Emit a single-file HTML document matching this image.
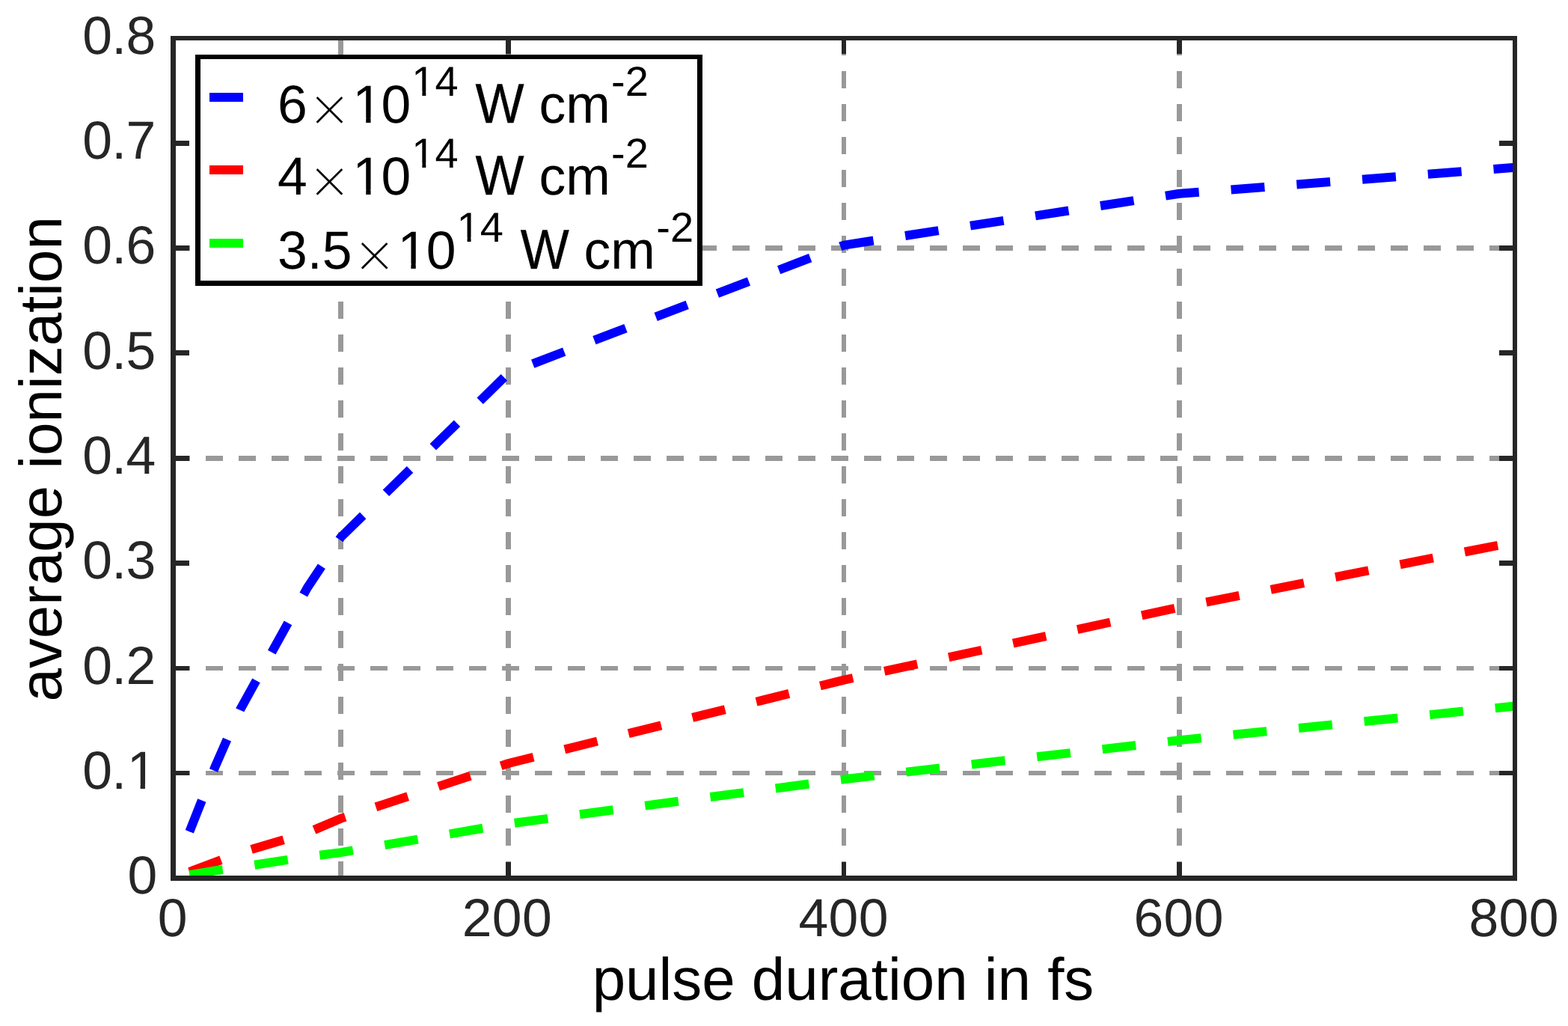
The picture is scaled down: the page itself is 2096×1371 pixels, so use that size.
<!DOCTYPE html>
<html lang="en"><head><meta charset="utf-8"><title>average ionization vs pulse duration in fs</title>
<style>
html,body{margin:0;padding:0;background:#fff;}
body{width:2096px;height:1371px;overflow:hidden;}
svg{display:block;text-rendering:geometricPrecision;}
text{font-family:"Liberation Sans",sans-serif;white-space:pre;}
.tick{font-size:71.5px;fill:#262626;}
.xt{letter-spacing:0.35px;}
.yt{letter-spacing:-0.7px;}
.lab{font-size:79.9px;fill:#000;}
.leg{font-size:71.5px;fill:#000;}
.sup{font-size:56px;fill:#000;}
.w{font-size:74.9px;stroke:#000;stroke-width:0.4px;}
.times{font-family:"DejaVu Sans Light","DejaVu Sans",sans-serif;font-weight:200;font-size:70.9px;fill:#000;stroke:#fff;stroke-width:0.7px;}
</style></head><body>
<svg width="2096" height="1371" viewBox="0 0 2096 1371" role="img" aria-label="average ionization versus pulse duration in fs">
<rect x="0" y="0" width="2096" height="1371" fill="#ffffff"/>
<g fill="#999999" shape-rendering="crispEdges">
<rect x="452" y="51" width="7" height="23"/>
<rect x="452" y="95" width="7" height="23"/>
<rect x="452" y="139" width="7" height="23"/>
<rect x="452" y="183" width="7" height="23"/>
<rect x="452" y="227" width="7" height="23"/>
<rect x="452" y="271" width="7" height="23"/>
<rect x="452" y="315" width="7" height="23"/>
<rect x="452" y="359" width="7" height="23"/>
<rect x="452" y="403" width="7" height="23"/>
<rect x="452" y="447" width="7" height="23"/>
<rect x="452" y="491" width="7" height="23"/>
<rect x="452" y="535" width="7" height="23"/>
<rect x="452" y="579" width="7" height="23"/>
<rect x="452" y="623" width="7" height="23"/>
<rect x="452" y="667" width="7" height="23"/>
<rect x="452" y="711" width="7" height="23"/>
<rect x="452" y="755" width="7" height="23"/>
<rect x="452" y="799" width="7" height="23"/>
<rect x="452" y="843" width="7" height="23"/>
<rect x="452" y="887" width="7" height="23"/>
<rect x="452" y="931" width="7" height="23"/>
<rect x="452" y="975" width="7" height="23"/>
<rect x="452" y="1019" width="7" height="23"/>
<rect x="452" y="1063" width="7" height="23"/>
<rect x="452" y="1107" width="7" height="23"/>
<rect x="452" y="1151" width="7" height="23"/>
<rect x="676" y="51" width="7" height="23"/>
<rect x="676" y="95" width="7" height="23"/>
<rect x="676" y="139" width="7" height="23"/>
<rect x="676" y="183" width="7" height="23"/>
<rect x="676" y="227" width="7" height="23"/>
<rect x="676" y="271" width="7" height="23"/>
<rect x="676" y="315" width="7" height="23"/>
<rect x="676" y="359" width="7" height="23"/>
<rect x="676" y="403" width="7" height="23"/>
<rect x="676" y="447" width="7" height="23"/>
<rect x="676" y="491" width="7" height="23"/>
<rect x="676" y="535" width="7" height="23"/>
<rect x="676" y="579" width="7" height="23"/>
<rect x="676" y="623" width="7" height="23"/>
<rect x="676" y="667" width="7" height="23"/>
<rect x="676" y="711" width="7" height="23"/>
<rect x="676" y="755" width="7" height="23"/>
<rect x="676" y="799" width="7" height="23"/>
<rect x="676" y="843" width="7" height="23"/>
<rect x="676" y="887" width="7" height="23"/>
<rect x="676" y="931" width="7" height="23"/>
<rect x="676" y="975" width="7" height="23"/>
<rect x="676" y="1019" width="7" height="23"/>
<rect x="676" y="1063" width="7" height="23"/>
<rect x="676" y="1107" width="7" height="23"/>
<rect x="676" y="1151" width="7" height="23"/>
<rect x="1125" y="51" width="6" height="23"/>
<rect x="1125" y="95" width="6" height="23"/>
<rect x="1125" y="139" width="6" height="23"/>
<rect x="1125" y="183" width="6" height="23"/>
<rect x="1125" y="227" width="6" height="23"/>
<rect x="1125" y="271" width="6" height="23"/>
<rect x="1125" y="315" width="6" height="23"/>
<rect x="1125" y="359" width="6" height="23"/>
<rect x="1125" y="403" width="6" height="23"/>
<rect x="1125" y="447" width="6" height="23"/>
<rect x="1125" y="491" width="6" height="23"/>
<rect x="1125" y="535" width="6" height="23"/>
<rect x="1125" y="579" width="6" height="23"/>
<rect x="1125" y="623" width="6" height="23"/>
<rect x="1125" y="667" width="6" height="23"/>
<rect x="1125" y="711" width="6" height="23"/>
<rect x="1125" y="755" width="6" height="23"/>
<rect x="1125" y="799" width="6" height="23"/>
<rect x="1125" y="843" width="6" height="23"/>
<rect x="1125" y="887" width="6" height="23"/>
<rect x="1125" y="931" width="6" height="23"/>
<rect x="1125" y="975" width="6" height="23"/>
<rect x="1125" y="1019" width="6" height="23"/>
<rect x="1125" y="1063" width="6" height="23"/>
<rect x="1125" y="1107" width="6" height="23"/>
<rect x="1125" y="1151" width="6" height="23"/>
<rect x="1573" y="51" width="7" height="23"/>
<rect x="1573" y="95" width="7" height="23"/>
<rect x="1573" y="139" width="7" height="23"/>
<rect x="1573" y="183" width="7" height="23"/>
<rect x="1573" y="227" width="7" height="23"/>
<rect x="1573" y="271" width="7" height="23"/>
<rect x="1573" y="315" width="7" height="23"/>
<rect x="1573" y="359" width="7" height="23"/>
<rect x="1573" y="403" width="7" height="23"/>
<rect x="1573" y="447" width="7" height="23"/>
<rect x="1573" y="491" width="7" height="23"/>
<rect x="1573" y="535" width="7" height="23"/>
<rect x="1573" y="579" width="7" height="23"/>
<rect x="1573" y="623" width="7" height="23"/>
<rect x="1573" y="667" width="7" height="23"/>
<rect x="1573" y="711" width="7" height="23"/>
<rect x="1573" y="755" width="7" height="23"/>
<rect x="1573" y="799" width="7" height="23"/>
<rect x="1573" y="843" width="7" height="23"/>
<rect x="1573" y="887" width="7" height="23"/>
<rect x="1573" y="931" width="7" height="23"/>
<rect x="1573" y="975" width="7" height="23"/>
<rect x="1573" y="1019" width="7" height="23"/>
<rect x="1573" y="1063" width="7" height="23"/>
<rect x="1573" y="1107" width="7" height="23"/>
<rect x="1573" y="1151" width="7" height="23"/>
<rect x="231" y="1030" width="23" height="6"/>
<rect x="275" y="1030" width="23" height="6"/>
<rect x="319" y="1030" width="23" height="6"/>
<rect x="363" y="1030" width="23" height="6"/>
<rect x="407" y="1030" width="23" height="6"/>
<rect x="451" y="1030" width="23" height="6"/>
<rect x="495" y="1030" width="23" height="6"/>
<rect x="539" y="1030" width="23" height="6"/>
<rect x="583" y="1030" width="23" height="6"/>
<rect x="627" y="1030" width="23" height="6"/>
<rect x="671" y="1030" width="23" height="6"/>
<rect x="715" y="1030" width="23" height="6"/>
<rect x="759" y="1030" width="23" height="6"/>
<rect x="803" y="1030" width="23" height="6"/>
<rect x="847" y="1030" width="23" height="6"/>
<rect x="891" y="1030" width="23" height="6"/>
<rect x="935" y="1030" width="23" height="6"/>
<rect x="979" y="1030" width="23" height="6"/>
<rect x="1023" y="1030" width="23" height="6"/>
<rect x="1067" y="1030" width="23" height="6"/>
<rect x="1111" y="1030" width="23" height="6"/>
<rect x="1155" y="1030" width="23" height="6"/>
<rect x="1199" y="1030" width="23" height="6"/>
<rect x="1243" y="1030" width="23" height="6"/>
<rect x="1287" y="1030" width="23" height="6"/>
<rect x="1331" y="1030" width="23" height="6"/>
<rect x="1375" y="1030" width="23" height="6"/>
<rect x="1419" y="1030" width="23" height="6"/>
<rect x="1463" y="1030" width="23" height="6"/>
<rect x="1507" y="1030" width="23" height="6"/>
<rect x="1551" y="1030" width="23" height="6"/>
<rect x="1595" y="1030" width="23" height="6"/>
<rect x="1639" y="1030" width="23" height="6"/>
<rect x="1683" y="1030" width="23" height="6"/>
<rect x="1727" y="1030" width="23" height="6"/>
<rect x="1771" y="1030" width="23" height="6"/>
<rect x="1815" y="1030" width="23" height="6"/>
<rect x="1859" y="1030" width="23" height="6"/>
<rect x="1903" y="1030" width="23" height="6"/>
<rect x="1947" y="1030" width="23" height="6"/>
<rect x="1991" y="1030" width="23" height="6"/>
<rect x="231" y="890" width="23" height="6"/>
<rect x="275" y="890" width="23" height="6"/>
<rect x="319" y="890" width="23" height="6"/>
<rect x="363" y="890" width="23" height="6"/>
<rect x="407" y="890" width="23" height="6"/>
<rect x="451" y="890" width="23" height="6"/>
<rect x="495" y="890" width="23" height="6"/>
<rect x="539" y="890" width="23" height="6"/>
<rect x="583" y="890" width="23" height="6"/>
<rect x="627" y="890" width="23" height="6"/>
<rect x="671" y="890" width="23" height="6"/>
<rect x="715" y="890" width="23" height="6"/>
<rect x="759" y="890" width="23" height="6"/>
<rect x="803" y="890" width="23" height="6"/>
<rect x="847" y="890" width="23" height="6"/>
<rect x="891" y="890" width="23" height="6"/>
<rect x="935" y="890" width="23" height="6"/>
<rect x="979" y="890" width="23" height="6"/>
<rect x="1023" y="890" width="23" height="6"/>
<rect x="1067" y="890" width="23" height="6"/>
<rect x="1111" y="890" width="23" height="6"/>
<rect x="1155" y="890" width="23" height="6"/>
<rect x="1199" y="890" width="23" height="6"/>
<rect x="1243" y="890" width="23" height="6"/>
<rect x="1287" y="890" width="23" height="6"/>
<rect x="1331" y="890" width="23" height="6"/>
<rect x="1375" y="890" width="23" height="6"/>
<rect x="1419" y="890" width="23" height="6"/>
<rect x="1463" y="890" width="23" height="6"/>
<rect x="1507" y="890" width="23" height="6"/>
<rect x="1551" y="890" width="23" height="6"/>
<rect x="1595" y="890" width="23" height="6"/>
<rect x="1639" y="890" width="23" height="6"/>
<rect x="1683" y="890" width="23" height="6"/>
<rect x="1727" y="890" width="23" height="6"/>
<rect x="1771" y="890" width="23" height="6"/>
<rect x="1815" y="890" width="23" height="6"/>
<rect x="1859" y="890" width="23" height="6"/>
<rect x="1903" y="890" width="23" height="6"/>
<rect x="1947" y="890" width="23" height="6"/>
<rect x="1991" y="890" width="23" height="6"/>
<rect x="231" y="609" width="23" height="7"/>
<rect x="275" y="609" width="23" height="7"/>
<rect x="319" y="609" width="23" height="7"/>
<rect x="363" y="609" width="23" height="7"/>
<rect x="407" y="609" width="23" height="7"/>
<rect x="451" y="609" width="23" height="7"/>
<rect x="495" y="609" width="23" height="7"/>
<rect x="539" y="609" width="23" height="7"/>
<rect x="583" y="609" width="23" height="7"/>
<rect x="627" y="609" width="23" height="7"/>
<rect x="671" y="609" width="23" height="7"/>
<rect x="715" y="609" width="23" height="7"/>
<rect x="759" y="609" width="23" height="7"/>
<rect x="803" y="609" width="23" height="7"/>
<rect x="847" y="609" width="23" height="7"/>
<rect x="891" y="609" width="23" height="7"/>
<rect x="935" y="609" width="23" height="7"/>
<rect x="979" y="609" width="23" height="7"/>
<rect x="1023" y="609" width="23" height="7"/>
<rect x="1067" y="609" width="23" height="7"/>
<rect x="1111" y="609" width="23" height="7"/>
<rect x="1155" y="609" width="23" height="7"/>
<rect x="1199" y="609" width="23" height="7"/>
<rect x="1243" y="609" width="23" height="7"/>
<rect x="1287" y="609" width="23" height="7"/>
<rect x="1331" y="609" width="23" height="7"/>
<rect x="1375" y="609" width="23" height="7"/>
<rect x="1419" y="609" width="23" height="7"/>
<rect x="1463" y="609" width="23" height="7"/>
<rect x="1507" y="609" width="23" height="7"/>
<rect x="1551" y="609" width="23" height="7"/>
<rect x="1595" y="609" width="23" height="7"/>
<rect x="1639" y="609" width="23" height="7"/>
<rect x="1683" y="609" width="23" height="7"/>
<rect x="1727" y="609" width="23" height="7"/>
<rect x="1771" y="609" width="23" height="7"/>
<rect x="1815" y="609" width="23" height="7"/>
<rect x="1859" y="609" width="23" height="7"/>
<rect x="1903" y="609" width="23" height="7"/>
<rect x="1947" y="609" width="23" height="7"/>
<rect x="1991" y="609" width="23" height="7"/>
<rect x="231" y="328" width="23" height="7"/>
<rect x="275" y="328" width="23" height="7"/>
<rect x="319" y="328" width="23" height="7"/>
<rect x="363" y="328" width="23" height="7"/>
<rect x="407" y="328" width="23" height="7"/>
<rect x="451" y="328" width="23" height="7"/>
<rect x="495" y="328" width="23" height="7"/>
<rect x="539" y="328" width="23" height="7"/>
<rect x="583" y="328" width="23" height="7"/>
<rect x="627" y="328" width="23" height="7"/>
<rect x="671" y="328" width="23" height="7"/>
<rect x="715" y="328" width="23" height="7"/>
<rect x="759" y="328" width="23" height="7"/>
<rect x="803" y="328" width="23" height="7"/>
<rect x="847" y="328" width="23" height="7"/>
<rect x="891" y="328" width="23" height="7"/>
<rect x="935" y="328" width="23" height="7"/>
<rect x="979" y="328" width="23" height="7"/>
<rect x="1023" y="328" width="23" height="7"/>
<rect x="1067" y="328" width="23" height="7"/>
<rect x="1111" y="328" width="23" height="7"/>
<rect x="1155" y="328" width="23" height="7"/>
<rect x="1199" y="328" width="23" height="7"/>
<rect x="1243" y="328" width="23" height="7"/>
<rect x="1287" y="328" width="23" height="7"/>
<rect x="1331" y="328" width="23" height="7"/>
<rect x="1375" y="328" width="23" height="7"/>
<rect x="1419" y="328" width="23" height="7"/>
<rect x="1463" y="328" width="23" height="7"/>
<rect x="1507" y="328" width="23" height="7"/>
<rect x="1551" y="328" width="23" height="7"/>
<rect x="1595" y="328" width="23" height="7"/>
<rect x="1639" y="328" width="23" height="7"/>
<rect x="1683" y="328" width="23" height="7"/>
<rect x="1727" y="328" width="23" height="7"/>
<rect x="1771" y="328" width="23" height="7"/>
<rect x="1815" y="328" width="23" height="7"/>
<rect x="1859" y="328" width="23" height="7"/>
<rect x="1903" y="328" width="23" height="7"/>
<rect x="1947" y="328" width="23" height="7"/>
<rect x="1991" y="328" width="23" height="7"/>
</g>
<g fill="none" stroke-width="12" stroke-dasharray="45 43" stroke-linejoin="bevel" stroke-linecap="butt">
<polyline stroke="#0000ff" points="253.32,1111.32 287.55,1024.49 321.18,948.02 410.85,785.40 455.69,717.77 679.88,498.32 1128.25,327.56 1576.62,258.80 2025.00,223.72"/>
<polyline stroke="#ff0000" points="253.32,1165.03 287.55,1152.17 321.18,1139.54 410.85,1112.74 455.69,1093.66 679.88,1020.00 1128.25,908.59 1576.62,811.49 2025.00,724.50"/>
<polyline stroke="#00ff00" points="253.32,1169.11 287.55,1163.40 321.18,1158.77 410.85,1144.74 455.69,1139.12 679.88,1100.82 1128.25,1041.33 1576.62,989.13 2025.00,943.53"/>
</g>
<g fill="#262626" shape-rendering="crispEdges">
<rect x="676" y="1152" width="7" height="25"/>
<rect x="676" y="48" width="7" height="24"/>
<rect x="1125" y="1152" width="6" height="25"/>
<rect x="1125" y="48" width="6" height="24"/>
<rect x="1573" y="1152" width="7" height="25"/>
<rect x="1573" y="48" width="7" height="24"/>
<rect x="228" y="1030" width="25" height="6"/>
<rect x="2004" y="1030" width="24" height="6"/>
<rect x="228" y="890" width="25" height="6"/>
<rect x="2004" y="890" width="24" height="6"/>
<rect x="228" y="749" width="25" height="7"/>
<rect x="2004" y="749" width="24" height="7"/>
<rect x="228" y="609" width="25" height="7"/>
<rect x="2004" y="609" width="24" height="7"/>
<rect x="228" y="468" width="25" height="7"/>
<rect x="2004" y="468" width="24" height="7"/>
<rect x="228" y="328" width="25" height="7"/>
<rect x="2004" y="328" width="24" height="7"/>
<rect x="228" y="188" width="25" height="7"/>
<rect x="2004" y="188" width="24" height="7"/>
<rect x="228" y="48" width="7" height="1129"/>
<rect x="2022" y="48" width="6" height="1129"/>
<rect x="228" y="48" width="1800" height="6"/>
<rect x="228" y="1170" width="1800" height="7"/>
</g>
<text class="tick xt" x="230.90" y="1251" text-anchor="middle">0</text>
<text class="tick xt" x="677.88" y="1251" text-anchor="middle">200</text>
<text class="tick xt" x="1127.65" y="1251" text-anchor="middle">400</text>
<text class="tick xt" x="1575.62" y="1251" text-anchor="middle">600</text>
<text class="tick xt" x="2023.60" y="1251" text-anchor="middle">800</text>
<text class="tick" x="170.40" y="1194">0</text>
<text class="tick yt" x="110.20" y="1054">0.<tspan x="169.63">1</tspan></text>
<rect x="173.58" y="1047.06" width="14.03" height="7.74" fill="#ffffff"/><rect x="193.93" y="1047.06" width="13.47" height="7.74" fill="#ffffff"/>
<text class="tick yt" x="110.20" y="914">0.2</text>
<text class="tick yt" x="110.20" y="773">0.3</text>
<text class="tick yt" x="110.20" y="633">0.4</text>
<text class="tick yt" x="110.20" y="493">0.5</text>
<text class="tick yt" x="110.20" y="352">0.6</text>
<text class="tick yt" x="110.20" y="212">0.7</text>
<text class="tick yt" x="110.20" y="72">0.8</text>
<text class="lab" x="791.70" y="1335.60">pulse duration in fs</text>
<text class="lab" transform="translate(81.60,613.30) rotate(-90)" text-anchor="middle">average ionization</text>
<g shape-rendering="crispEdges">
<rect x="261" y="73" width="678" height="309" fill="#000000"/>
<rect x="268" y="79" width="664" height="296" fill="#ffffff"/>
<rect x="280" y="124" width="45" height="12" fill="#0000ff"/>
<rect x="280" y="221" width="45" height="12" fill="#ff0000"/>
<rect x="280" y="319" width="45" height="12" fill="#00ff00"/>
</g>
<text class="leg"><tspan x="371.05" y="164">6</tspan><tspan class="times" x="410.70" y="169">×</tspan><tspan x="471.25" y="164">1</tspan><tspan x="509.60">0</tspan><tspan class="sup" x="550.30" y="128">14</tspan><tspan x="615.00" y="164"> </tspan><tspan class="w" x="635.60" y="164" textLength="65.05" lengthAdjust="spacingAndGlyphs">W</tspan><tspan x="702.00" y="164"> </tspan><tspan x="720.40" y="164">cm</tspan><tspan class="sup" x="817.10" y="128">-2</tspan></text>
<rect x="475.2" y="157.06" width="14.03" height="7.74" fill="#ffffff"/><rect x="495.55" y="157.06" width="13.47" height="7.74" fill="#ffffff"/>
<rect x="553.07" y="122.22" width="11.31" height="6.58" fill="#ffffff"/><rect x="569.33" y="122.22" width="10.88" height="6.58" fill="#ffffff"/>
<text class="leg"><tspan x="371.05" y="260">4</tspan><tspan class="times" x="410.70" y="265">×</tspan><tspan x="471.25" y="260">1</tspan><tspan x="509.60">0</tspan><tspan class="sup" x="550.30" y="224">14</tspan><tspan x="615.00" y="260"> </tspan><tspan class="w" x="635.60" y="260" textLength="65.05" lengthAdjust="spacingAndGlyphs">W</tspan><tspan x="702.00" y="260"> </tspan><tspan x="720.40" y="260">cm</tspan><tspan class="sup" x="817.10" y="224">-2</tspan></text>
<rect x="475.2" y="253.06" width="14.03" height="7.74" fill="#ffffff"/><rect x="495.55" y="253.06" width="13.47" height="7.74" fill="#ffffff"/>
<rect x="553.07" y="218.22" width="11.31" height="6.58" fill="#ffffff"/><rect x="569.33" y="218.22" width="10.88" height="6.58" fill="#ffffff"/>
<text class="leg"><tspan x="371.05" y="359">3.5</tspan><tspan class="times" x="470.90" y="364">×</tspan><tspan x="531.45" y="359">1</tspan><tspan x="569.80">0</tspan><tspan class="sup" x="610.50" y="323">14</tspan><tspan x="675.20" y="359"> </tspan><tspan class="w" x="695.80" y="359" textLength="65.05" lengthAdjust="spacingAndGlyphs">W</tspan><tspan x="762.20" y="359"> </tspan><tspan x="780.60" y="359">cm</tspan><tspan class="sup" x="877.30" y="323">-2</tspan></text>
<rect x="535.4" y="352.06" width="14.03" height="7.74" fill="#ffffff"/><rect x="555.75" y="352.06" width="13.47" height="7.74" fill="#ffffff"/>
<rect x="613.27" y="317.22" width="11.31" height="6.58" fill="#ffffff"/><rect x="629.53" y="317.22" width="10.88" height="6.58" fill="#ffffff"/>
</svg>
</body></html>
